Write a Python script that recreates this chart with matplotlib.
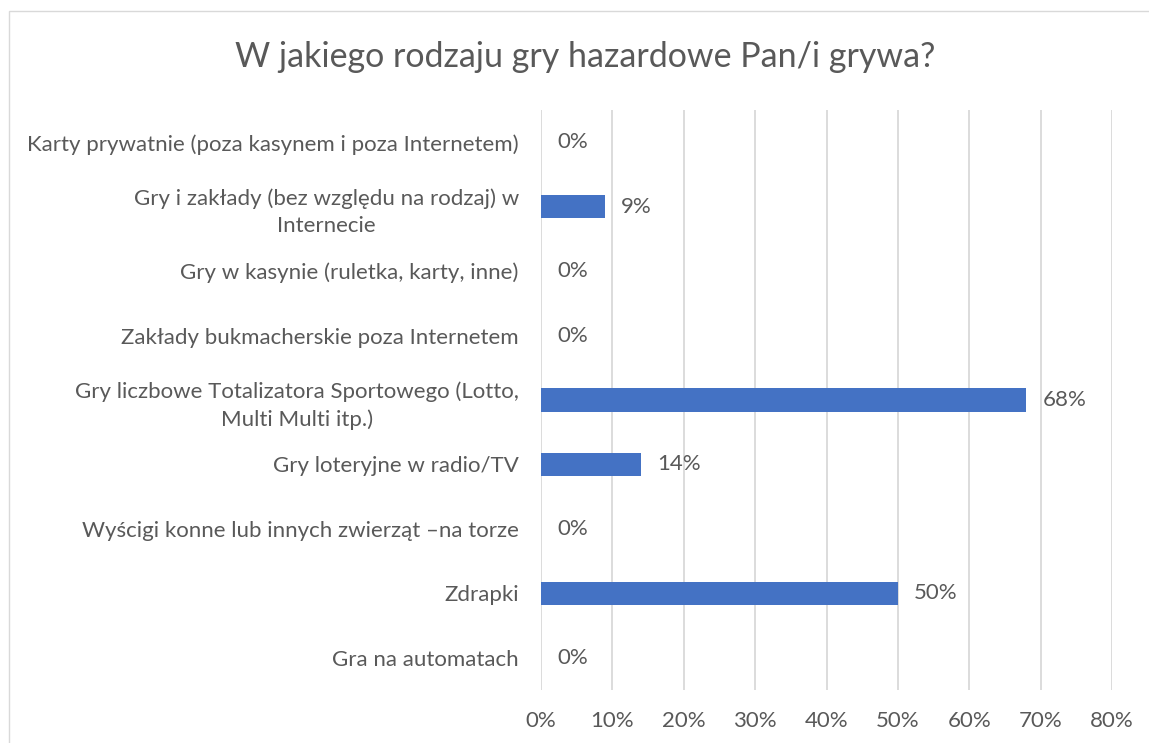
import matplotlib
matplotlib.use("Agg")
import matplotlib.pyplot as plt
from matplotlib.patches import Rectangle
from matplotlib.ticker import MultipleLocator, FuncFormatter

categories = [
    "Karty prywatnie (poza kasynem i poza Internetem)",
    "Gry i zakłady (bez względu na rodzaj) w\nInternecie",
    "Gry w kasynie (ruletka, karty, inne)",
    "Zakłady bukmacherskie poza Internetem",
    "Gry liczbowe Totalizatora Sportowego (Lotto,\nMulti Multi itp.)",
    "Gry loteryjne w radio/TV",
    "Wyścigi konne lub innych zwierząt –na torze",
    "Zdrapki",
    "Gra na automatach",
]
values = [0, 9, 0, 0, 68, 14, 0, 50, 0]
title = "W jakiego rodzaju gry hazardowe Pan/i grywa?"

TEXT = "#595959"
BAR = "#4472C4"
GRID = "#D9D9D9"
FONT = ["Lato", "DejaVu Sans"]
plt.rcParams["font.family"] = FONT
FS = 16

W, H = 1149, 743
fig = plt.figure(figsize=(W / 100, H / 100), dpi=100)
fig.patch.set_facecolor("white")

# chart border
fig.add_artist(Rectangle((9 / W, 1 - 11 / H - 1.0), 1.2, 1.0, transform=fig.transFigure,
                         fill=False, edgecolor="#D9D9D9", linewidth=1.0))

ax = fig.add_axes([541 / W, 1 - 690 / H, (1112 - 541) / W, (690 - 110) / H])
ypos = list(range(len(categories)))
ax.barh(ypos, values, height=0.36, color=BAR, zorder=3)
ax.set_ylim(len(categories) - 0.5, -0.5)
ax.set_xlim(0, 80)
ax.xaxis.set_major_locator(MultipleLocator(10))
ax.xaxis.set_major_formatter(FuncFormatter(lambda v, p: f"{int(round(v))}%"))
ax.grid(axis="x", color=GRID, linewidth=1.3, zorder=0)
for s in ax.spines.values():
    s.set_visible(False)
ax.tick_params(axis="x", length=0, pad=15, labelsize=FS, labelcolor=TEXT)
ax.tick_params(axis="y", length=0, pad=16, labelsize=FS, labelcolor=TEXT)
ax.set_yticks(ypos)
ax.set_yticklabels(categories, multialignment="center", linespacing=1.45)

for y, v in zip(ypos, values):
    ax.annotate(f"{v}%", xy=(v, y), xytext=(11.5, 0), textcoords="offset points",
                ha="left", va="center", fontsize=FS, color=TEXT)

fig.text(585 / W, 1 - 57 / H, title, ha="center", va="center", fontsize=24.5, color=TEXT)

fig.savefig("out.png", dpi=100, facecolor="white")
